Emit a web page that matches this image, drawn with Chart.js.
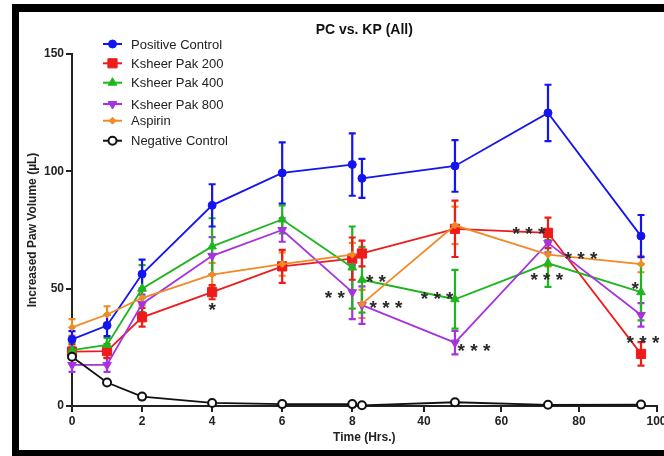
<!DOCTYPE html>
<html lang="en">
<head>
  <meta charset="UTF-8">
  <title>PC vs. KP (All)</title>
  <script src="https://cdn.jsdelivr.net/npm/chart.js"></script>
  <style>
    body {
      margin: 0;
      background-color: #ffffff;
      font-family: Arial, "Liberation Sans", sans-serif;
    }

    .wrap {
      position: relative;
      width: 664px;
      height: 456px;
      overflow: hidden;
    }

    .band {
      position: absolute;
      background-color: #000000;
    }
  </style>
</head>
<body>
  <div class="wrap">
    <canvas id="pawChart" width="664" height="456"></canvas>
    <div class="band" style="left:12px; top:4px; width:652px; height:8px;"></div>
    <div class="band" style="left:12px; top:4px; width:7px; height:452px;"></div>
    <div class="band" style="left:12px; top:450px; width:652px; height:6px;"></div>
  </div>

  <script>
    // time points (hours); the axis is broken after 8 h
    const timesLeft = [0, 1, 2, 4, 6, 8];
    const timesRight = [24, 48, 72, 96];
    const ticksLeft = [0, 2, 4, 6, 8];
    const ticksRight = [40, 60, 80, 100];
    const ticksY = [0, 50, 100, 150];

    const seriesNames = ['Positive Control', 'Ksheer Pak 200', 'Ksheer Pak 400', 'Ksheer Pak 800', 'Aspirin', 'Negative Control'];

    // mean paw volume, first 6 values for 0-8 h, last 4 for 24-96 h
    const positiveControl = [28.4, 34.3, 56.2, 85.5, 99.3, 102.9, 97.0, 102.3, 124.9, 72.4];
    const ksheer200 = [23.2, 23.4, 37.8, 48.5, 59.5, 62.8, 65.0, 75.5, 73.8, 22.2];
    const ksheer400 = [23.8, 26.0, 50.0, 68.0, 79.5, 59.0, 53.8, 45.5, 60.8, 48.5];
    const ksheer800 = [17.5, 17.5, 43.5, 64.0, 75.0, 48.5, 43.0, 27.0, 69.5, 38.8];
    const aspirin = [33.5, 39.0, 46.0, 56.0, 60.5, 64.5, 43.5, 77.0, 64.5, 60.5];
    const negativeControl = [21.0, 10.0, 4.0, 1.3, 0.8, 0.8, 0.3, 1.6, 0.5, 0.6];

    // standard error
    const errPositive = [3.5, 4.5, 6.2, 9, 13, 13.3, 8.3, 11, 12, 9];
    const err200 = [3, 3, 4, 3, 7, 9, 5.5, 12, 6.5, 5];
    const err400 = [3, 3, 10, 12, 6, 17.5, 14, 12.5, 10, 12];
    const err800 = [3, 3, 4, 8, 5, 11.5, 8, 5, 4, 5];
    const errAspirin = [3.5, 3.5, 3, 5, 5, 5, 6, 8, 5, 3.5];
    const errNegative = [0, 0, 0, 0, 0, 0, 0, 0, 0, 0];

    // significance marks: time, value, text
    const starTimes = [4, 7.5, 27.6, 30.2, 43.4, 52.9, 67.1, 80.5, 71.7, 94.5, 96.5];
    const starValues = [43, 48, 55, 44, 47.7, 25.6, 75.4, 64.8, 55.8, 52, 29];
    const starTexts = ['*', '* *', '* *', '* * *', '* * *', '* * *', '* * *', '* * *', '* * *', '*', '* * *'];

    const styles = [
      { color: '#1414f0', point: 'circle', radius: 4, rotation: 0, fill: '#1414f0' },
      { color: '#ee1b1b', point: 'rect', radius: 6.5, rotation: 0, fill: '#ee1b1b' },
      { color: '#1fb51f', point: 'triangle', radius: 5, rotation: 0, fill: '#1fb51f' },
      { color: '#a632e0', point: 'triangle', radius: 5, rotation: 180, fill: '#a632e0' },
      { color: '#f08a26', point: 'rectRot', radius: 3.5, rotation: 0, fill: '#f08a26' },
      { color: '#111111', point: 'circle', radius: 4, rotation: 0, fill: '#ffffff' }
    ];
    const allValues = [positiveControl, ksheer200, ksheer400, ksheer800, aspirin, negativeControl];
    const allErrors = [errPositive, err200, err400, err800, errAspirin, errNegative];

    function makeDataset(i, part) {
      const st = styles[i];
      const times = part === 'left' ? timesLeft : timesRight;
      const offset = part === 'left' ? 0 : timesLeft.length;
      return {
        label: seriesNames[i],
        xAxisID: part === 'left' ? 'xLeft' : 'xRight',
        data: times.map((t, k) => ({ x: t, y: allValues[i][offset + k] })),
        errors: times.map((t, k) => allErrors[i][offset + k]),
        borderColor: st.color,
        backgroundColor: st.fill,
        pointBorderColor: st.color,
        pointBackgroundColor: st.fill,
        pointStyle: st.point,
        pointRadius: st.radius,
        pointRotation: st.rotation,
        pointBorderWidth: i === 5 ? 2 : 1,
        borderWidth: 1.8,
        tension: 0,
        clip: false
      };
    }

    const datasets = [];
    for (let i = seriesNames.length - 1; i >= 0; i--) {
      datasets.push(makeDataset(i, 'left'));
      datasets.push(makeDataset(i, 'right'));
    }

    const errorBars = {
      id: 'errorBars',
      beforeDatasetsDraw(chart) {
        const ctx = chart.ctx;
        const y = chart.scales.y;
        chart.data.datasets.forEach(ds => {
          const x = chart.scales[ds.xAxisID];
          ctx.save();
          ctx.strokeStyle = ds.borderColor;
          ctx.lineWidth = 2.2;
          ds.data.forEach((p, k) => {
            const e = ds.errors[k];
            if (!e) return;
            const px = x.getPixelForValue(p.x);
            const top = y.getPixelForValue(p.y + e);
            const bot = y.getPixelForValue(p.y - e);
            ctx.beginPath();
            ctx.moveTo(px, top); ctx.lineTo(px, bot);
            ctx.moveTo(px - 3.5, top); ctx.lineTo(px + 3.5, top);
            ctx.moveTo(px - 3.5, bot); ctx.lineTo(px + 3.5, bot);
            ctx.stroke();
          });
          ctx.restore();
        });
      }
    };

    const extras = {
      id: 'extras',
      afterDatasetsDraw(chart) {
        const ctx = chart.ctx;
        const y = chart.scales.y;
        const area = chart.chartArea;
        ctx.save();

        // significance stars
        ctx.fillStyle = '#2a2a2a';
        ctx.font = 'bold 19px Arial, "Liberation Sans", sans-serif';
        ctx.textAlign = 'center';
        ctx.textBaseline = 'alphabetic';
        starTimes.forEach((t, k) => {
          const x = t <= 8 ? chart.scales.xLeft : chart.scales.xRight;
          ctx.fillText(starTexts[k], x.getPixelForValue(t), y.getPixelForValue(starValues[k]) + 11);
        });

        // legend
        const rows = [44, 63.3, 82.7, 104, 120.7, 140.7];
        ctx.font = '13px Arial, "Liberation Sans", sans-serif';
        ctx.textAlign = 'left';
        ctx.textBaseline = 'middle';
        seriesNames.forEach((name, i) => {
          const st = styles[i];
          const ly = rows[i];
          ctx.strokeStyle = st.color;
          ctx.lineWidth = 2;
          ctx.beginPath();
          ctx.moveTo(103, ly); ctx.lineTo(122, ly);
          ctx.stroke();
          ctx.fillStyle = st.fill;
          ctx.lineWidth = i === 5 ? 2 : 1;
          Chart.helpers.drawPoint(ctx, {
            pointStyle: st.point, radius: st.radius, rotation: st.rotation, borderWidth: ctx.lineWidth
          }, 112.5, ly);
          ctx.fillStyle = '#222222';
          ctx.fillText(name, 131, ly + 1);
        });

        // x axis title
        ctx.fillStyle = '#222222';
        ctx.font = 'bold 12px Arial, "Liberation Sans", sans-serif';
        ctx.textAlign = 'center';
        ctx.fillText('Time (Hrs.)', (area.left + area.right) / 2, 438);
        ctx.restore();
      }
    };

    const tickFont = { family: 'Arial, "Liberation Sans", sans-serif', size: 12, weight: 'bold' };
    const axisGrid = { display: true, drawOnChartArea: false, drawTicks: true, tickLength: 6, color: '#222222', lineWidth: 2 };
    const axisBorder = { display: true, color: '#222222', width: 2 };

    new Chart(document.getElementById('pawChart'), {
      type: 'line',
      data: { datasets },
      plugins: [errorBars, extras],
      options: {
        responsive: false,
        animation: false,
        layout: { padding: { left: 19, top: 12, right: 7, bottom: 28 } },
        plugins: {
          legend: { display: false },
          tooltip: { enabled: false },
          title: {
            display: true,
            text: 'PC vs. KP (All)',
            fullSize: false,
            color: '#111111',
            font: { family: 'Arial, "Liberation Sans", sans-serif', size: 14, weight: 'bold' },
            padding: { top: 10, bottom: 15.2 }
          }
        },
        scales: {
          xLeft: {
            type: 'linear',
            position: 'bottom',
            stack: 'time',
            stackWeight: 284,
            min: 0,
            max: 8.1,
            afterBuildTicks: s => { s.ticks = ticksLeft.map(v => ({ value: v })); },
            afterFit: s => { s.height = 22; s.paddingLeft = 0; s.paddingRight = 0; },
            ticks: { color: '#222222', font: tickFont, padding: 2, maxRotation: 0 },
            grid: axisGrid,
            border: axisBorder
          },
          xRight: {
            type: 'linear',
            position: 'bottom',
            stack: 'time',
            stackWeight: 301,
            min: 22.4,
            max: 100,
            afterBuildTicks: s => { s.ticks = ticksRight.map(v => ({ value: v })); },
            afterFit: s => { s.height = 22; s.paddingLeft = 0; s.paddingRight = 0; },
            ticks: { color: '#222222', font: tickFont, padding: 2, maxRotation: 0 },
            grid: axisGrid,
            border: axisBorder
          },
          y: {
            type: 'linear',
            min: 0,
            max: 150,
            afterBuildTicks: s => { s.ticks = ticksY.map(v => ({ value: v })); },
            afterFit: s => { s.width = 53; },
            ticks: { color: '#222222', font: tickFont, padding: 2 },
            grid: axisGrid,
            border: axisBorder,
            title: {
              display: true,
              text: 'Increased Paw Volume (\u00b5L)',
              color: '#222222',
              font: { family: 'Arial, "Liberation Sans", sans-serif', size: 12, weight: 'bold' },
              padding: { top: 6, bottom: 0 }
            }
          }
        }
      }
    });
  </script>
</body>
</html>
